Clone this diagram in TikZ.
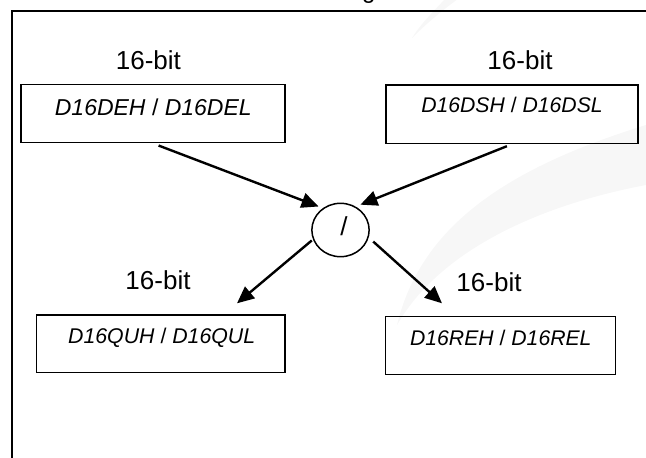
\documentclass[tikz,border=0pt]{standalone}
\usepackage{fontspec}
\setmainfont{Liberation Sans}
\usetikzlibrary{arrows.meta,shapes.geometric}
\begin{document}
\begin{tikzpicture}[x=1pt,y=-1pt,
  boxnode/.style={draw,line width=1.4pt,rectangle,inner sep=0pt},
  lbl/.style={anchor=base,inner sep=0pt,font=\fontsize{26}{30}\selectfont},
  boxtext/.style={anchor=base,inner sep=0pt},
  arr/.style={line width=2.4pt,-{Triangle[length=17pt,width=15pt]}}]
\useasboundingbox (0,0) rectangle (646,458);
\clip (0,0) rectangle (646,458);
% faint watermark swooshes
\fill[black!3] (397,325) .. controls (420,230) and (500,170) .. (646,125) -- (646,185) .. controls (540,205) and (440,250) .. (397,325) -- cycle;
\fill[black!3] (445,-1) .. controls (430,15) and (420,25) .. (412,38) .. controls (425,25) and (440,12) .. (458,-1) -- cycle;
% cut-off caption
\node[anchor=base west,inner sep=0pt,font=\fontsize{24}{28}\selectfont] (cap) at (362,-2) {g};
% outer frame
\draw[line width=2pt] (12,470) -- (12,10.5) -- (660,10.5);
% boxes
\node[boxnode,minimum width=264pt,minimum height=58.4pt] (b1) at (153,113.5) {};
\node[boxnode,minimum width=252pt,minimum height=58.5pt] (b2) at (512,114.2) {};
\node[boxnode,minimum width=248.3pt,minimum height=57.7pt] (b3) at (160.85,343.85) {};
\node[boxnode,minimum width=230pt,minimum height=57.6pt] (b4) at (500.7,345.5) {};
% box texts
\node[boxtext,font=\fontsize{23}{27}\selectfont] (t1) at (153.3,115) {\textit{D16DEH} / \textit{D16DEL}};
\node[boxtext,font=\fontsize{21.2}{25}\selectfont] (t2) at (512,112.7) {\textit{D16DSH} / \textit{D16DSL}};
\node[boxtext,font=\fontsize{21.3}{25}\selectfont] (t3) at (161.7,343.3) {\textit{D16QUH} / \textit{D16QUL}};
\node[boxtext,font=\fontsize{21.2}{25}\selectfont] (t4) at (500.8,345) {\textit{D16REH} / \textit{D16REL}};
% 16-bit labels
\node[lbl] (l1) at (148.4,69) {16-bit};
\node[lbl] (l2) at (520,69) {16-bit};
\node[lbl] (l3) at (158,289.3) {16-bit};
\node[lbl] (l4) at (489,291.7) {16-bit};
% divider circle
\node[draw,ellipse,line width=1.5pt,inner sep=0pt,minimum width=57.3pt,minimum height=53.4pt] (div) at (340.5,230) {};
\node[anchor=base,inner sep=0pt,font=\fontsize{26}{30}\selectfont] (slash) at (344,235) {/};
% arrows
\draw[arr,shorten <=6pt,shorten >=4.5pt] (b1.south) -- (div.129);
\draw[arr,shorten <=5.5pt,shorten >=5pt] (b2.south) -- (div.57);
\draw[arr,shorten <=1.5pt] (div.199) -- ([xshift=76.15pt,yshift=11pt]b3.north);
\draw[arr,shorten <=6pt] (div.345) -- ([xshift=-58.7pt,yshift=12.7pt]b4.north);
\end{tikzpicture}
\end{document}
